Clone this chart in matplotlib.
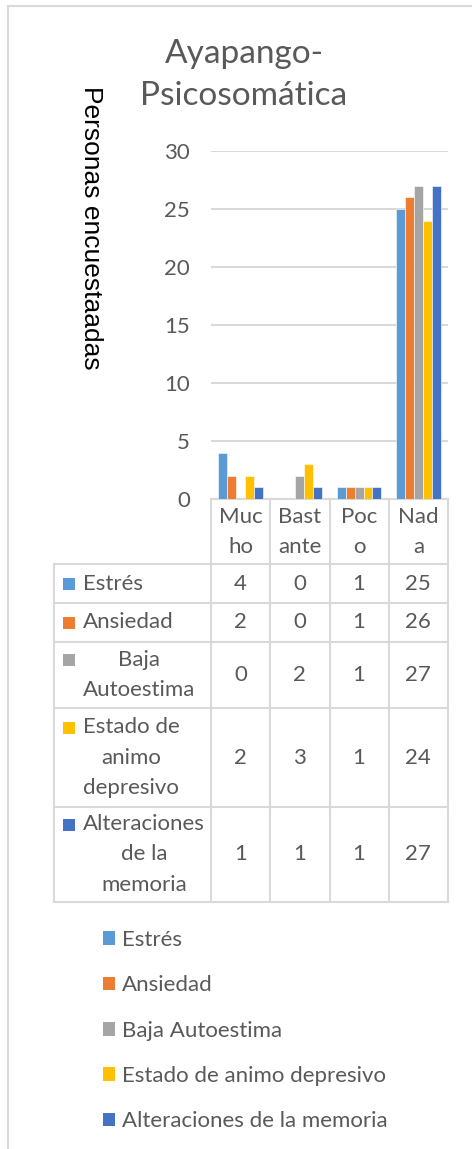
import matplotlib
matplotlib.use('Agg')
import matplotlib.pyplot as plt
from matplotlib.patches import Patch, Rectangle
from matplotlib.transforms import blended_transform_factory

plt.rcParams['font.family'] = ['Lato', 'DejaVu Sans']

# data
categories = ['Mucho', 'Bastante', 'Poco', 'Nada']
header_labels = ['Muc\nho', 'Bast\nante', 'Poc\no', 'Nad\na']
series_names = ['Estrés', 'Ansiedad', 'Baja Autoestima',
                'Estado de animo depresivo', 'Alteraciones de la memoria']
row_labels = ['Estrés', 'Ansiedad', 'Baja\nAutoestima',
              'Estado de\nanimo\ndepresivo', 'Alteraciones\nde la\nmemoria']
estres = [4, 0, 1, 25]
ansiedad = [2, 0, 1, 26]
baja_autoestima = [0, 2, 1, 27]
animo_depresivo = [2, 3, 1, 24]
memoria = [1, 1, 1, 27]
values = [estres, ansiedad, baja_autoestima, animo_depresivo, memoria]
colors = ['#5B9BD5', '#ED7D31', '#A5A5A5', '#FFC000', '#4472C4']

W, H = 472, 1149
grid_c = '#D9D9D9'
text_c = '#595959'
fs = 16
ls = 1.68  # line spacing of wrapped cell text

fig = plt.figure(figsize=(W / 100, H / 100), dpi=100)

# overlay in pixel coords (y down)
ov = fig.add_axes([0, 0, 1, 1])
ov.set_xlim(0, W)
ov.set_ylim(H, 0)
ov.axis('off')

# chart border
ov.plot([8, W], [6, 6], color=grid_c, lw=1.5)
ov.plot([8, 8], [6, H], color=grid_c, lw=1.5)

# plot area
x0, x1 = 211, 448
y_top, y_bot = 151, 499
ax = fig.add_axes([x0 / W, (H - y_bot) / H, (x1 - x0) / W, (y_bot - y_top) / H])
ax.set_xlim(-0.5, len(categories) - 0.5)
ax.set_ylim(0, 30)
ax.set_yticks(range(0, 31, 5))
ax.set_xticks([])
ax.grid(axis='y', color=grid_c, lw=1.5)
ax.set_axisbelow(True)
for s in ['top', 'right', 'left']:
    ax.spines[s].set_visible(False)
ax.spines['bottom'].set_color(grid_c)
ax.spines['bottom'].set_linewidth(1.5)
ax.tick_params(axis='y', length=0, pad=15, labelsize=fs, labelcolor=text_c)
ax.patch.set_alpha(0)

w = 0.15
for j, (vals, c) in enumerate(zip(values, colors)):
    xs = [i + (j - 2) * w for i in range(len(categories))]
    ax.bar(xs, vals, width=w, color=c, edgecolor='white', linewidth=0.4, zorder=3)

# title and y label
ov.text(244, 63, 'Ayapango-', ha='center', va='baseline', fontsize=24, color=text_c)
ov.text(244, 105, 'Psicosomática', ha='center', va='baseline', fontsize=24, color=text_c)
ov.text(91, 228, 'Personas encuestaadas', rotation=-90, ha='center', va='center',
        fontsize=19, color='black', family=['Liberation Sans', 'DejaVu Sans'])

# data table
tr = blended_transform_factory(ax.transData, ov.transData)
row_edges = [564, 603, 642, 708, 807, 902]
tab_left = 54
lw = 1.5
# header
for i, lab in enumerate(header_labels):
    ov.text(i, 532, lab, transform=tr, ha='center', va='center', fontsize=fs,
            color=text_c, linespacing=ls)
for k in range(len(categories) + 1):
    ov.plot([k - 0.5, k - 0.5], [499, row_edges[0]], transform=tr, color=grid_c, lw=lw)
# rows
for y in row_edges:
    ov.plot([tab_left, x1], [y, y], color=grid_c, lw=lw)
ov.plot([tab_left, tab_left], [row_edges[0], row_edges[-1]], color=grid_c, lw=lw)
for k in range(len(categories) + 1):
    ov.plot([k - 0.5, k - 0.5], [row_edges[0], row_edges[-1]], transform=tr,
            color=grid_c, lw=lw)
for r, (lab, vals, c) in enumerate(zip(row_labels, values, colors)):
    yc = (row_edges[r] + row_edges[r + 1]) / 2
    nlines = lab.count('\n') + 1
    ytop_line = yc - (nlines - 1) * 30 / 2
    ov.add_patch(Rectangle((63, ytop_line - 6), 12, 12, color=c, lw=0))
    ov.text(83, yc, lab, ha='left', va='center', fontsize=fs, color=text_c,
            multialignment='center', linespacing=ls)
    for i, v in enumerate(vals):
        ov.text(i, yc, str(v), transform=tr, ha='center', va='center',
                fontsize=fs, color=text_c)

# legend
handles = [Patch(facecolor=c, edgecolor='none') for c in colors]
fig.legend(handles, series_names, loc='upper left',
           bbox_to_anchor=(103 / W, 1 - 930 / H), frameon=False, fontsize=fs,
           labelcolor=text_c, handlelength=0.55, handleheight=0.55,
           handletextpad=0.3, labelspacing=1.14, borderpad=0, borderaxespad=0)

fig.savefig('out.png', dpi=100)
